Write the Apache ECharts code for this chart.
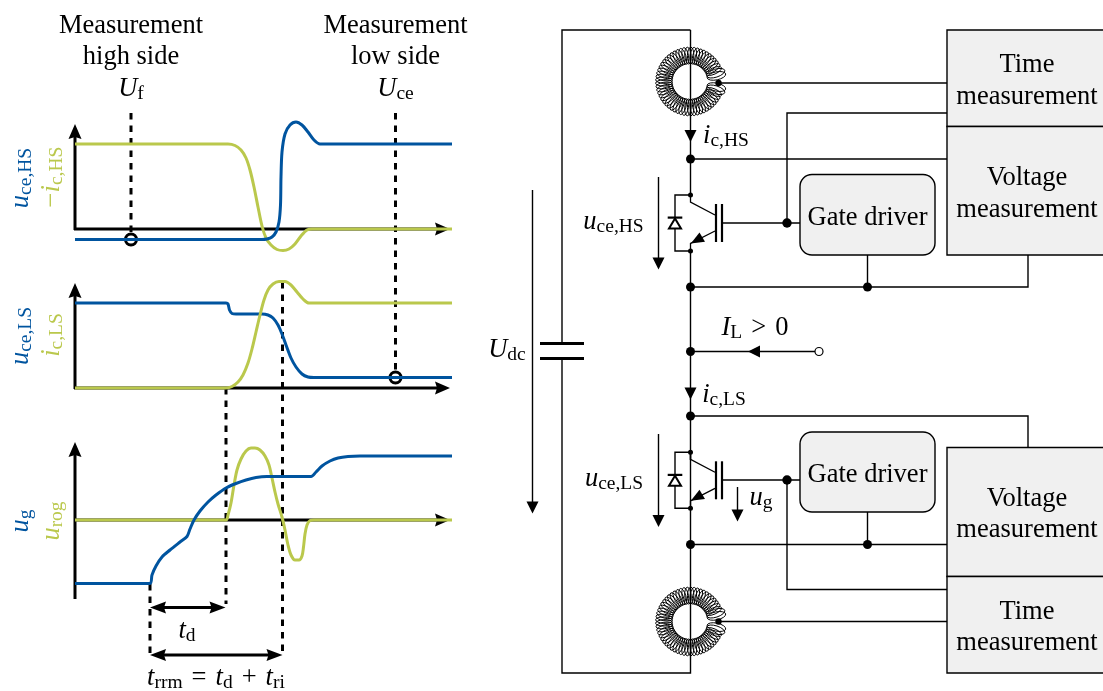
<!DOCTYPE html>
<html><head><meta charset="utf-8">
<style>html,body{margin:0;padding:0;background:#fff}#c{width:1103px;height:691px}</style>
<script src="https://cdn.jsdelivr.net/npm/echarts@6/dist/echarts.min.js"></script>
</head><body><div id="c"></div>
<script>
const BLUE='#00549F', GREEN='#BAC84C', INK='#000';

// waveforms (value axes span the drawing 1:1)
const hsVoltage=[[75,239.5],[262,239.5],[267,239],[272,237],[276,232],[279,222],[280.5,205],[281,177],[282,152],[285,134],[290,125],[296,122],[302,125],[308,132],[314,140],[320,144],[325,144],[452,144]];
const hsCurrent=[[75,144],[228,144],[235,145.5],[241,150],[246,158],[250,170],[254,187],[258,207],[262,226],[266,238],[271,245],[277,249.5],[283,250.5],[289,249],[295,244],[301,236],[307,230],[312,229],[452,229]];
const lsVoltage=[[75,303],[226,303],[228,304],[229.5,310],[232,313.5],[236,314],[262,314],[268,315],[273,318],[278,325],[282,334],[286,345],[291,358],[296,367],[302,374],[308,377],[314,377.5],[452,377.5]];
const lsCurrent=[[75,388],[226,388],[232,386.5],[238,382],[243,375],[248,363],[252,349],[256,332],[260,315],[264,300],[268,290],[273,284],[279,281.5],[285,281.5],[291,285],[297,292],[303,299],[309,303],[314,303],[452,303]];
const gateVoltage=[[75,583.5],[150,583.5],[152,575],[156,566],[162,557],[170,550],[180,542],[187,536.5],[190,529],[194,520],[200,511],[208,502],[216,495],[226,488],[236,483.5],[246,480],[256,477.5],[267,476.5],[311,476.5],[316,472],[322,466],[330,461],[338,458],[348,456.5],[360,456],[452,456]];
const rogVoltage=[[75,520],[226,520],[228,515],[231,503],[234,485],[237,470],[241,459],[246,451],[251,448],[255,448],[260,450],[265,456],[269,465],[272,478],[275,492],[278,504],[282,517],[285,530],[288,545],[291,555],[295,560],[299,560],[302,556],[303.5,547],[305,534],[307,525],[310,520.5],[314,520],[452,520]];

// plot frames
const axisLines=[[[75,230],[75,136]],[[74,229],[438,229]],[[75,389],[75,295]],[[74,388],[438,388]],[[75,599],[75,455]],[[75,520],[438,520]]];
const axisHeads=[[75,124,'u'],[450,229,'r'],[75,283,'u'],[450,388,'r'],[75,442,'u'],[450,520,'r']];
const dashedGuides=[[[131,113],[131,234]],[[395.5,113],[395.5,372]],[[226,388],[226,604]],[[282.5,282],[282.5,655]],[[150,584],[150,655]]];
const measurePoints=[[131,239.5],[395.5,377.5]];
const spanLines=[[[160,607.5],[216,607.5]],[[160,655],[272,655]]];
const spanHeads=[[150,607.5,'l'],[225.5,607.5,'r'],[150,655,'l'],[282.5,655,'r']];

// circuit
const blocks=[[947,30,1110,126.5,0],[947,126.5,1110,255,0],[947,447.5,1110,576.5,0],[947,576.5,1110,673,0],[800,174.5,935,255,12],[800,432,935,512,12]];
const wires=[
 [[562,343],[562,30],[690.5,30]],[[690.5,30],[690.5,195]],[[690.5,250],[690.5,589]],[[690.5,589],[690.5,673],[562,673],[562,359]],
 [[718,83],[947,83]],[[947,113],[787,113],[787,223]],[[690.5,159],[947,159]],[[722,223],[800,223]],
 [[867.5,255],[867.5,287]],[[690.5,287],[1028,287],[1028,255]],
 [[690.5,351.5],[815,351.5]],
 [[690.5,416],[1028,416],[1028,447]],[[690.5,452],[690.5,460]],[[722,480],[800,480]],[[787,480],[787,589.5],[947,589.5]],
 [[867.5,512],[867.5,544.5]],[[690.5,544.5],[947,544.5]],[[718,621.5],[947,621.5]],
 [[532.5,190],[532.5,503]],[[658.5,177],[658.5,258]],[[658.5,434],[658.5,516]],[[737.5,487],[737.5,510]]
];
const capacitorPlates=[[[540,343.5],[584,343.5]],[[540,358.5],[584,358.5]]];
const junctions=[[690.5,159,4.5],[787,223,4.7],[690.5,287,4.5],[867.5,287,4.5],[690.5,351.5,4.5],[690.5,416,4.5],[787,480,4.7],[690.5,544.5,4.5],[867.5,544.5,4.5],[718.5,83,3.2],[718.5,621.5,3.2]];
const openTerminal=[[819,351.5,4]];
const circuitHeads=[[690.5,142,'d'],[690.5,399.5,'d'],[532.5,513.5,'d'],[658.5,269.5,'d'],[658.5,527,'d'],[737.5,521.5,'d'],[748,351.5,'l']];
const igbtRows=[0,257.3];
const rogowskiCentres=[[690,81.5],[690,621.5]];

// text
const texts=[
 ['Measurement',131,26.5],['high side',131,57.5],['{m|U}{s|f}',131,89],
 ['Measurement',395.5,26.5],['low side',395.5,57.5],['{m|U}{s|ce}',395.5,89],
 ['Time',1027,65.5],['measurement',1027,97.5],['Voltage',1027,178.5],['measurement',1027,210.5],
 ['Voltage',1027,499.5],['measurement',1027,530.5],['Time',1027,612.5],['measurement',1027,643.5],
 ['Gate driver',867.5,218],['Gate driver',867.5,475],
 ['{m|u}{s|ce,HS}',613.5,222],['{m|u}{s|ce,LS}',614,479],['{m|u}{s|g}',761,498],
 ['{m|i}{s|c,HS}',726,136],['{m|i}{s|c,LS}',724,395],['{m|U}{s|dc}',507,350],
 ['{m|I}{s|L}{o|>}{r|0}',755,328],['{m|t}{s|d}',187,631],
 ['{m|t}{s|rrm}{o|=}{m|t}{s|d}{o|+}{m|t}{s|ri}',216,678]
];
const verticalTexts=[
 ['{m|u}{s|ce,HS}',21,178,BLUE],['{r|−}{m|i}{s|c,HS}',52,177,GREEN],
 ['{m|u}{s|ce,LS}',21,336,BLUE],['{m|i}{s|c,LS}',52,335,GREEN],
 ['{m|u}{s|g}',21,521,BLUE],['{m|u}{s|rog}',52,521,GREEN]
];

const SERIF='"Liberation Serif","Times New Roman",serif';
const rich={
 m:{font:'italic 26.5px '+SERIF,lineHeight:32},
 r:{font:'26.5px '+SERIF,lineHeight:32},
 o:{font:'26.5px '+SERIF,lineHeight:32,padding:[0,9,0,9]},
 s:{font:'19.5px '+SERIF,lineHeight:32,padding:[9,0,0,0]}
};

function shapes(items,draw,extra){
 return Object.assign({type:'custom',coordinateSystem:'cartesian2d',silent:true,animation:false,clip:false,
  data:items.map((_,i)=>[0,0,i]),
  renderItem:(p,api)=>draw(items[p.dataIndex],v=>api.coord(v))},extra||{});
}
const poly=(pts,c,w,dash)=>({type:'polyline',shape:{points:pts},style:{stroke:INK,fill:null,lineWidth:w,lineDash:dash||null,lineCap:'butt',lineJoin:'miter'}});
const path=(w,dash)=>(pts,c)=>poly(pts.map(c),null,w,dash);
const DIR={u:[0,-1],d:[0,1],l:[-1,0],r:[1,0]};
function head(len,wid,notch){return (h,c)=>{
 const [dx,dy]=DIR[h[2]],x=h[0],y=h[1],nx=-dy,ny=dx;
 const pts=[[x,y],[x-dx*len+nx*wid/2,y-dy*len+ny*wid/2],[x-dx*(len-notch),y-dy*(len-notch)],[x-dx*len-nx*wid/2,y-dy*len-ny*wid/2]];
 return {type:'polygon',shape:{points:pts.map(c)},style:{fill:INK,stroke:null}};
};}
function dot(fill,stroke,w){return (d,c)=>{
 const p=c([d[0],d[1]]);
 return {type:'circle',shape:{cx:p[0],cy:p[1],r:d[2]},style:{fill:fill,stroke:stroke,lineWidth:w||0}};
};}
function wave(data,color){return {type:'line',data:data,showSymbol:false,symbol:'none',smooth:0.3,silent:true,animation:false,clip:false,
 lineStyle:{color:color,width:3,cap:'butt'}};}

function igbtElements(dy,c){
 const L=(pts,w)=>poly(pts.map(p=>c([p[0],p[1]+dy])),null,w);
 const tri=(pts,fill,w)=>({type:'polygon',shape:{points:pts.map(p=>c([p[0],p[1]+dy]))},style:{fill:fill,stroke:w?INK:null,lineWidth:w||0,lineJoin:'miter'}});
 const d=(x,y,r)=>{const q=c([x,y+dy]);return {type:'circle',shape:{cx:q[0],cy:q[1],r:r},style:{fill:INK}}};
 return {type:'group',children:[
  L([[690.5,195],[690.5,202],[715,215]],1.3),L([[715,231],[690.5,243.5],[690.5,251]],1.3),
  L([[716,204],[716,242]],2.2),L([[722,204],[722,242]],2.2),
  L([[690.5,195],[675,195],[675,251],[690.5,251]],1.4),
  tri([[690.8,243.5],[699.5,232.5],[705,241.8]],INK),
  tri([[675,218.5],[669,228.5],[681,228.5]],'#fff',2),L([[667.7,217.6],[682.3,217.6]],2.2),
  d(690.5,195,2.5),d(690.5,251,2.5)
 ]};
}
function rogowski(r,c){
 const children=[],N=58,R=26,a=8.4,b=3.2;
 for(let k=0;k<N;k++){
  const th=(12+336*k/(N-1))*Math.PI/180;
  const edge=k<=1||k>=N-2, A=edge?9.5:a, B=edge?4:b, Rm=edge?27:R;
  const pts=[];
  for(let t=0;t<=16;t++){
   const q=t/16*2*Math.PI,rr=Rm+A*Math.cos(q),s=B*Math.sin(q);
   pts.push(c([r[0]+rr*Math.cos(th)-s*Math.sin(th),r[1]+rr*Math.sin(th)+s*Math.cos(th)]));
  }
  children.push({type:'polyline',shape:{points:pts},style:{stroke:INK,fill:null,lineWidth:1}});
 }
 return {type:'group',children};
}
function txt(t,c){
 const p=c([t[1],t[2]]);
 return {type:'text',x:p[0],y:p[1],style:{text:t[0],font:'26.5px '+SERIF,fill:INK,align:'center',verticalAlign:'middle',rich}};
}
function vtxt(t,c){
 const p=c([t[1],t[2]]);
 return {type:'text',x:p[0],y:p[1],rotation:Math.PI/2,originX:0,originY:0,style:{text:t[0],font:'26.5px '+SERIF,fill:t[3],align:'center',verticalAlign:'middle',
  rich:{m:Object.assign({fill:t[3]},rich.m),r:Object.assign({fill:t[3]},rich.r),s:Object.assign({fill:t[3]},rich.s)}}};
}

const chart=echarts.init(document.getElementById('c'),null,{renderer:'canvas'});
chart.setOption({
 animation:false,backgroundColor:'#fff',
 grid:{left:0,right:0,top:0,bottom:0},
 xAxis:{type:'value',min:0,max:1103,show:false},
 yAxis:{type:'value',min:0,max:691,inverse:true,show:false},
 tooltip:{show:false},
 series:[
  shapes(blocks,(b,c)=>{const p=c([b[0],b[1]]),q=c([b[2],b[3]]);
   return {type:'rect',shape:{x:p[0],y:p[1],width:q[0]-p[0],height:q[1]-p[1],r:b[4]},style:{fill:'#F0F0F0',stroke:INK,lineWidth:1.4}};}),
  shapes(wires,path(1.4)),
  shapes(capacitorPlates,path(2.8)),
  shapes(igbtRows,igbtElements),
  shapes(rogowskiCentres,rogowski),
  shapes(junctions,dot(INK,null)),
  shapes(openTerminal,dot('#fff',INK,1.2)),
  shapes(circuitHeads,head(12,12,0)),
  shapes(axisLines,path(3)),
  shapes(axisHeads,head(15,13,2)),
  wave(hsCurrent,GREEN),wave(hsVoltage,BLUE),
  wave(lsVoltage,BLUE),wave(lsCurrent,GREEN),
  wave(rogVoltage,GREEN),wave(gateVoltage,BLUE),
  shapes(dashedGuides,path(3,[6.5,6])),
  shapes(measurePoints,(d,c)=>dot(null,INK,3)([d[0],d[1],5.5],c)),
  shapes(spanLines,path(3)),
  shapes(spanHeads,head(16,12,2)),
  shapes(texts,txt),
  shapes(verticalTexts,vtxt)
 ]
});
</script></body></html>
